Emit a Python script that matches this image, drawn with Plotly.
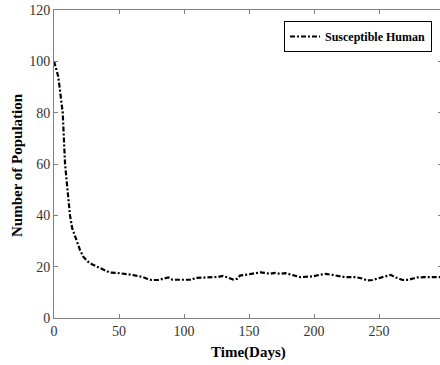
import plotly.graph_objects as go

# Data
time_days = [0, 1, 2, 3.3, 5, 6.7, 7.6, 8.5, 10.4, 12.3, 14, 16.2, 18, 20, 22.5, 26, 30, 35, 40,
             43, 48, 52, 56, 60, 64, 68, 72, 75, 80, 86, 88, 91, 96, 102, 106, 108.5, 113, 118,
             122, 126, 130, 134, 138, 141, 143, 147, 151, 155, 159, 162, 166, 170, 174, 178,
             182, 186, 189.5, 195, 199, 204, 209, 214, 219, 224, 232, 237, 241, 245, 249, 255,
             259, 263, 268, 273, 279, 285, 292, 298, 303]
susceptible = [100, 98.5, 96.5, 94, 87, 80, 70, 60, 50, 40, 35, 31.7, 28.8, 26.5, 23.9, 22, 20.7,
               19.5, 18.3, 17.7, 17.6, 17.4, 17.2, 16.8, 16.4, 16.0, 15.2, 14.8, 14.8, 15.5, 15.8,
               14.9, 14.8, 14.8, 14.9, 15.6, 15.7, 15.7, 15.8, 16.0, 16.4, 15.6, 15.0, 15.3, 16.5,
               16.8, 17.2, 17.4, 17.8, 17.6, 17.2, 17.6, 17.2, 17.5, 17.0, 16.6, 15.9, 16.1, 16.2,
               16.8, 17.2, 16.8, 16.3, 15.9, 15.9, 15.4, 14.6, 14.8, 15.4, 16.1, 16.8, 15.8, 14.8,
               14.9, 15.8, 15.9, 15.9, 15.9, 15.9]
series_name = "Susceptible Human"
x_ticks = [0, 50, 100, 150, 200, 250, 300]
y_ticks = [0, 20, 40, 60, 80, 100, 120]

FONT = "Liberation Serif"
AX = "#808080"

PL, PT, PB = 54, 10, 318          # plot edges in window pixels
W, H = 442, 365                   # slightly wider than the window: right frame falls off view
PR = 442
XMAX = (PR - PL) / 1.3

fig = go.Figure()
fig.add_trace(go.Scatter(
    x=time_days, y=susceptible, mode="lines", name="<b>" + series_name + "</b>",
    line=dict(color="black", width=2.2, dash="5px,2px,2px,2px"),
))

axis_common = dict(
    showline=True, linecolor=AX, linewidth=1, mirror="ticks",
    ticks="inside", ticklen=4, tickcolor=AX, tickwidth=1,
    showgrid=False, zeroline=False, ticklabeloverflow="allow",
    tickfont=dict(family=FONT, size=14, color="#333333"),
)
fig.update_xaxes(range=[0, XMAX], tickvals=x_ticks, **axis_common)
fig.update_yaxes(range=[0, 120], tickvals=y_ticks, **axis_common)

pw = PR - PL
ph = PB - PT
fig.update_layout(
    width=W, height=H,
    margin=dict(l=PL, r=W - PR, t=PT, b=H - PB, autoexpand=False),
    paper_bgcolor="white", plot_bgcolor="white",
    font=dict(family=FONT, color="black"),
    showlegend=True,
    legend=dict(
        x=(432 - PL) / pw, xanchor="right", y=1 - (21 - PT) / ph, yanchor="top",
        bordercolor="black", borderwidth=1, bgcolor="white",
        font=dict(family=FONT, size=12, color="black"),
        tracegroupgap=0, itemwidth=30,
    ),
    annotations=[
        dict(text="<b>Time(Days)</b>", xref="paper", yref="paper",
             x=(248.5 - PL) / pw, y=-(353 - PB) / ph, xanchor="center", yanchor="middle",
             showarrow=False, font=dict(family=FONT, size=15, color="black")),
        dict(text="<b>Number of Population</b>", xref="paper", yref="paper",
             x=-(PL - 17) / pw, y=(PB - 165) / ph, xanchor="center", yanchor="middle",
             textangle=-90, showarrow=False, font=dict(family=FONT, size=15, color="black")),
    ],
)

fig.write_html("out.html", config={"displayModeBar": False},
               post_script="document.body.style.margin='0';")
